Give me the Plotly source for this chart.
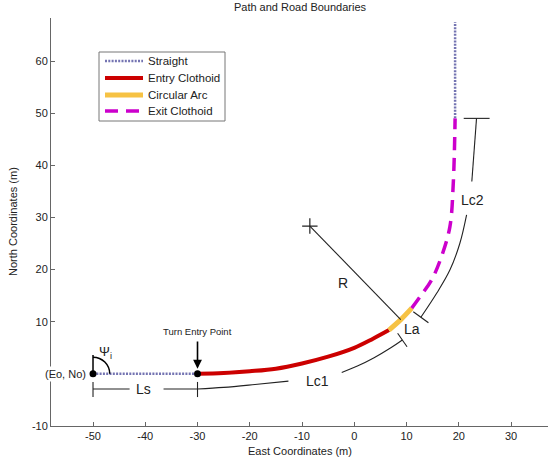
import plotly.graph_objects as go

# ---------------- data ----------------
straight_in_x = [-50, -30]
straight_in_y = [0, 0]
entry_x = [-30, -25, -20, -15, -10, -5, 0, 3.5, 6.65]
entry_y = [0, 0.15, 0.5, 1.0, 2.0, 3.3, 5.0, 6.7, 8.4]
arc_x = [6.65, 8.9, 11.0]
arc_y = [8.4, 10.4, 12.6]
exit_x = [11.0, 12.6, 14.8, 16.7, 18.3, 18.95, 19.3]
exit_y = [12.6, 14.8, 18.0, 22.5, 28.2, 36.55, 49.0]
straight_out_x = [19.3, 19.3]
straight_out_y = [49.0, 67.5]

# key points
start_pt = [-50, 0]
entry_pt = [-30, 0]
center_pt = [-8.5, 28.35]
radius_end = [8.9, 10.4]

# dimension / boundary lines
ls_a_x = [-50, -43];        ls_a_y = [-2.9, -2.9]
ls_b_x = [-36.5, -30];      ls_b_y = [-2.9, -2.9]
lc1a_x = [-30, -25, -19, -12.6]
lc1a_y = [-2.9, -2.6, -2.05, -1.4]
lc1b_x = [-2.4, 0.6, 3.8, 7.0, 9.2]
lc1b_y = [0.25, 1.5, 3.1, 5.0, 6.5]
lc2a_x = [12.75, 15.8, 18.3, 20.2, 21.5]
lc2a_y = [10.85, 15.5, 19.9, 25.0, 30.5]
lc2b_x = [22.5, 23.4]
lc2b_y = [36.9, 49.0]
# tick marks on dimension lines: (x0, y0, x1, y1)
dim_ticks = [
    (-50, -1.55, -50, -4.45),
    (-30, -1.55, -30, -4.45),
    (8.3, 7.8, 10.1, 5.2),
    (11.3, 11.9, 14.2, 9.8),
    (20.95, 49.0, 25.9, 49.0),
]

x_ticks = [-50, -40, -30, -20, -10, 0, 10, 20, 30]
x_tick_text = ["-50", "-40", "-30", "-20", "-10", "0", "10", "20", "30"]
y_ticks = [-10, 0, 10, 20, 30, 40, 50, 60]
y_tick_text = ["-10", "", "10", "20", "30", "40", "50", "60"]
x_range = [-58.04, 37.08]
y_range = [-10, 68.25]

labels = ["Straight", "Entry Clothoid", "Circular Arc", "Exit Clothoid"]
dim_labels = ["Ls", "Lc1", "La", "Lc2", "R"]
dim_label_x = [-40.4, -7.1, 11.05, 22.55, -2.25]
dim_label_y = [-2.95, -1.3, 8.55, 33.35, 17.4]

# ---------------- figure ----------------
FONT = "Liberation Sans, Arial, sans-serif"
INK = "#222222"
W, H = 548, 462
ML, MR, MT, MB = 51, 0, 18, 36
PW, PH = W - ML - MR, H - MT - MB


def px_x(px):
    return (px - ML) / PW


def px_y(py):
    return (H - MB - py) / PH


fig = go.Figure()

styles = [
    dict(color="#7474b2", width=2.5, dash="2px,1.3px"),
    dict(color="#cc0000", width=4),
    dict(color="#f6c244", width=5),
    dict(color="#cc00cc", width=3.5, dash="13px,8px"),
]

fig.add_trace(go.Scatter(x=straight_in_x, y=straight_in_y, mode="lines",
                         line=styles[0], name=labels[0], showlegend=False))
fig.add_trace(go.Scatter(x=straight_out_x, y=straight_out_y, mode="lines",
                         line=styles[0], name=labels[0], showlegend=False))
fig.add_trace(go.Scatter(x=entry_x, y=entry_y, mode="lines", line_shape="spline",
                         line=styles[1], name=labels[1], showlegend=False))
fig.add_trace(go.Scatter(x=arc_x, y=arc_y, mode="lines", line_shape="spline",
                         line=styles[2], name=labels[2], showlegend=False))
fig.add_trace(go.Scatter(x=exit_x, y=exit_y, mode="lines", line_shape="spline",
                         line=styles[3], name=labels[3], showlegend=False))

# boundary / dimension lines (thin black)
bx, by = [], []
for px_, py_ in [(ls_a_x, ls_a_y), (ls_b_x, ls_b_y)]:
    bx += list(px_) + [None]
    by += list(py_) + [None]
for t in dim_ticks:
    bx += [t[0], t[2], None]
    by += [t[1], t[3], None]
bx += [center_pt[0], radius_end[0], None]
by += [center_pt[1], radius_end[1], None]
fig.add_trace(go.Scatter(x=bx, y=by, mode="lines", line=dict(color=INK, width=1.1),
                         showlegend=False, hoverinfo="skip"))
for cx, cy in [(lc1a_x, lc1a_y), (lc1b_x, lc1b_y), (lc2a_x, lc2a_y), (lc2b_x, lc2b_y)]:
    fig.add_trace(go.Scatter(x=cx, y=cy, mode="lines", line_shape="spline",
                             line=dict(color=INK, width=1.1),
                             showlegend=False, hoverinfo="skip"))

# center cross
fig.add_trace(go.Scatter(x=[center_pt[0]], y=[center_pt[1]], mode="markers",
                         marker=dict(symbol="cross-thin", size=11,
                                     line=dict(color=INK, width=1.2)),
                         showlegend=False, cliponaxis=False))
# black dots
fig.add_trace(go.Scatter(x=[start_pt[0], entry_pt[0]], y=[start_pt[1], entry_pt[1]],
                         mode="markers", marker=dict(color="black", size=7),
                         showlegend=False, cliponaxis=False))

# psi angle mark
r = 3.2
k = 0.5523 * r
fig.add_shape(type="line", x0=-50, y0=0, x1=-50, y1=3.6,
              line=dict(color="black", width=1.5))
fig.add_shape(type="path",
              path=f"M {-50},{r} C {-50 + k},{r} {-50 + r},{k} {-50 + r},0",
              line=dict(color="black", width=1.5))

# dimension labels
for t, x, y in zip(dim_labels, dim_label_x, dim_label_y):
    fig.add_annotation(x=x, y=y, text=t, showarrow=False,
                       xanchor="center", yanchor="middle",
                       font=dict(family=FONT, size=14, color=INK))

fig.add_annotation(x=-47.6, y=4.1, text="Ψ<sub>i</sub>", showarrow=False,
                   font=dict(family=FONT, size=13, color=INK))
fig.add_annotation(x=-51.0, y=0, text="(Eo, No)", showarrow=False,
                   xanchor="right", yanchor="middle", bgcolor="white", borderpad=1,
                   font=dict(family=FONT, size=11, color=INK))
fig.add_annotation(x=-30, y=8.2, text="Turn Entry Point", showarrow=False,
                   xanchor="center", yanchor="middle",
                   font=dict(family=FONT, size=9.5, color=INK))
fig.add_annotation(x=-30, y=1.0, ax=-30, ay=6.5, axref="x", ayref="y",
                   text="", showarrow=True, arrowhead=2, arrowsize=1.1,
                   arrowwidth=1.6, arrowcolor="black")

# axis titles
fig.add_annotation(xref="paper", yref="paper", x=0.5, y=0, yshift=-25,
                   xanchor="center", yanchor="middle",
                   text="East Coordinates (m)", showarrow=False,
                   font=dict(family=FONT, size=11, color=INK))
fig.add_annotation(xref="paper", yref="paper", x=px_x(13), y=0.5,
                   xanchor="center", yanchor="middle",
                   text="North Coordinates (m)", showarrow=False, textangle=-90,
                   font=dict(family=FONT, size=11, color=INK))

# legend (drawn by hand to match the original spacing)
fig.add_shape(type="rect", xref="paper", yref="paper",
              x0=px_x(99), x1=px_x(225), y0=px_y(121), y1=px_y(52),
              line=dict(color="#777777", width=1), fillcolor="white", layer="above")
legend_rows = [61, 78, 95, 111]
for lab, st, row in zip(labels, styles, legend_rows):
    fig.add_shape(type="line", xref="paper", yref="paper",
                  x0=px_x(105), x1=px_x(143), y0=px_y(row), y1=px_y(row),
                  line=st, layer="above")
    fig.add_annotation(xref="paper", yref="paper", x=px_x(146), y=px_y(row),
                       xanchor="left", yanchor="middle", text=lab, showarrow=False,
                       font=dict(family=FONT, size=11.5, color=INK))

axis_common = dict(showgrid=False, zeroline=False, showline=True, linecolor="#666666",
                   linewidth=1, ticks="inside", ticklen=4, tickcolor="#666666",
                   tickfont=dict(family=FONT, size=11, color=INK), mirror=False)

fig.update_layout(
    width=W, height=H,
    margin=dict(l=ML, r=MR, t=MT, b=MB, autoexpand=False),
    paper_bgcolor="white", plot_bgcolor="white",
    title=dict(text="Path and Road Boundaries", x=300 / W, xanchor="center",
               y=1 - 7 / H, yanchor="middle", yref="container",
               font=dict(family=FONT, size=11, color=INK)),
    xaxis=dict(range=x_range, tickvals=x_ticks, ticktext=x_tick_text, **axis_common),
    yaxis=dict(range=y_range, tickvals=y_ticks, ticktext=y_tick_text, **axis_common),
    showlegend=False,
)

fig.write_html("out.html",
               config={"displayModeBar": False},
               post_script="document.body.style.margin='0';"
                           "document.body.style.padding='0';")
